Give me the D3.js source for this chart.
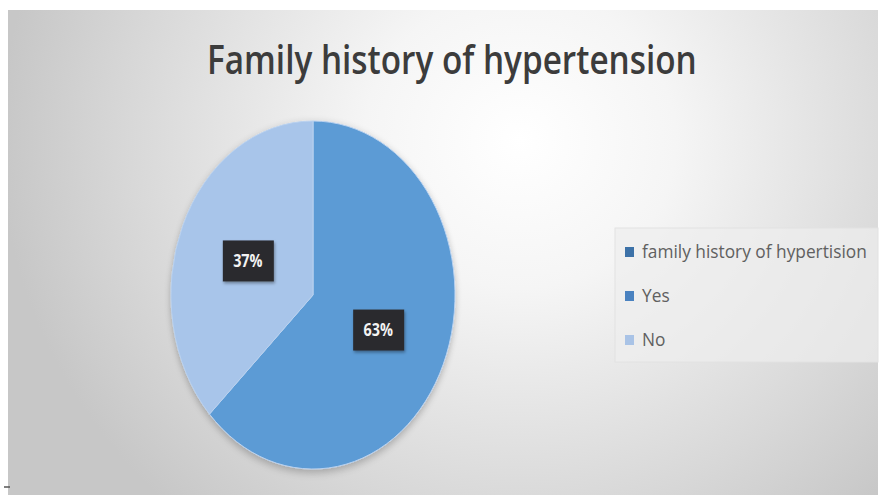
<!DOCTYPE html>
<html>
<head>
<meta charset="utf-8">
<script src="https://cdn.jsdelivr.net/npm/d3@7"></script>
<style>
  html, body { margin: 0; padding: 0; background: #ffffff; }
  svg { display: block; }
</style>
</head>
<body>
<svg id="chart" width="883" height="497"></svg>
<script>
// Family history of hypertension — share of respondents
const chartTitle = "Family history of hypertension";
const categories = ["family history of hypertision", "Yes", "No"];
const values = [0, 63, 37];
const sliceColors = ["#3f78b4", "#5b9bd5", "#a8c5ea"];
const legendColors = ["#3d72a8", "#4a82c0", "#a9c3e6"];

const W = 883, H = 497;
const svg = d3.select("#chart");
const defs = svg.append("defs");

// panel background: soft radial light in the upper middle
const bg = defs.append("radialGradient")
  .attr("id", "bgGrad")
  .attr("gradientUnits", "userSpaceOnUse")
  .attr("cx", 520).attr("cy", 140).attr("r", 520)
  .attr("gradientTransform", "translate(520,140) scale(1,0.95) translate(-520,-140)");
bg.append("stop").attr("offset", 0).attr("stop-color", "#ffffff");
bg.append("stop").attr("offset", 0.3).attr("stop-color", "#f5f5f5");
bg.append("stop").attr("offset", 0.75).attr("stop-color", "#d8d8d8");
bg.append("stop").attr("offset", 1).attr("stop-color", "#c7c7c7");

const shadow = defs.append("filter").attr("id", "soft")
  .attr("x", "-20%").attr("y", "-20%").attr("width", "140%").attr("height", "140%");
shadow.append("feGaussianBlur").attr("in", "SourceAlpha").attr("stdDeviation", 4).attr("result", "b");
shadow.append("feOffset").attr("in", "b").attr("dx", 0).attr("dy", 3).attr("result", "o");
shadow.append("feComponentTransfer").attr("in", "o").attr("result", "s")
  .append("feFuncA").attr("type", "linear").attr("slope", 0.25);
const m = shadow.append("feMerge");
m.append("feMergeNode").attr("in", "s");
m.append("feMergeNode").attr("in", "SourceGraphic");

const labShadow = defs.append("filter").attr("id", "labShadow")
  .attr("x", "-30%").attr("y", "-30%").attr("width", "160%").attr("height", "160%");
labShadow.append("feDropShadow").attr("dx", 1).attr("dy", 2).attr("stdDeviation", 1.5)
  .attr("flood-color", "#000").attr("flood-opacity", 0.35);

svg.append("rect")
  .attr("x", 8).attr("y", 10).attr("width", 870).attr("height", 485)
  .attr("fill", "url(#bgGrad)");

// title, squeezed horizontally to a condensed look
const title = svg.append("text")
  .attr("x", 0).attr("y", 0)
  .attr("font-family", "'Open Sans', 'DejaVu Sans', sans-serif")
  .attr("font-weight", 600)
  .attr("font-size", 40)
  .attr("fill", "#3c3c3c")
  .text(chartTitle);
const titleW = title.node().getComputedTextLength();
const titleSx = 490 / titleW;
title.attr("transform", `translate(207,74) scale(${titleSx},1)`);

// pie, drawn as a vertically stretched ellipse
const cx = 313, cy = 295, ry = 174, rx = 142;
const sx = rx / ry;
const pie = d3.pie().sort(null).value(d => d.value);
const data = categories.map((c, i) => ({ name: c, value: values[i], color: sliceColors[i] }));
const arcs = pie(data).filter(a => a.data.value > 0);
const arc = d3.arc().innerRadius(0).outerRadius(ry);

const pieG = svg.append("g")
  .attr("transform", `translate(${cx},${cy}) scale(${sx},1)`)
  .attr("filter", "url(#soft)");
pieG.selectAll("path")
  .data(arcs)
  .join("path")
  .attr("d", arc)
  .attr("fill", d => d.data.color)
  .attr("stroke", "#b9d1ef")
  .attr("stroke-width", 1)
  .attr("vector-effect", "non-scaling-stroke");

// percentage labels on dark boxes
const total = d3.sum(values);
const labelArc = d3.arc().innerRadius(0).outerRadius(ry);
const labG = svg.append("g");
arcs.forEach(a => {
  const [px, py] = labelArc.centroid(a);
  const x = cx + px * sx, y = cy + py;
  const g = labG.append("g").attr("transform", `translate(${x},${y})`);
  g.append("rect")
    .attr("x", -25).attr("y", -20).attr("width", 51).attr("height", 41)
    .attr("fill", "#2a2c2f")
    .attr("filter", "url(#labShadow)");
  const t = g.append("text")
    .attr("text-anchor", "middle")
    .attr("dy", "0.36em")
    .attr("font-family", "'Open Sans', 'DejaVu Sans', sans-serif")
    .attr("font-weight", 700)
    .attr("font-size", 18)
    .attr("fill", "#f2f2f2")
    .text(Math.round(a.data.value / total * 100) + "%");
  t.attr("transform", "scale(0.8,1)");
});

// legend
const legG = svg.append("g");
legG.append("rect")
  .attr("x", 615).attr("y", 228).attr("width", 263).attr("height", 134)
  .attr("fill", "#eeeeee").attr("fill-opacity", 0.7)
  .attr("stroke", "#e2e2e2");
const rowY = d3.scalePoint().domain(categories).range([252, 340]);
const items = legG.selectAll("g.item")
  .data(data)
  .join("g")
  .attr("class", "item")
  .attr("transform", d => `translate(625,${rowY(d.name)})`);
items.append("rect")
  .attr("x", 0).attr("y", -5).attr("width", 9).attr("height", 10)
  .attr("fill", (d, i) => legendColors[i]);
const legTexts = items.append("text")
  .attr("x", 0).attr("y", 0)
  .attr("dy", "0.35em")
  .attr("font-family", "'Open Sans', 'DejaVu Sans', sans-serif")
  .attr("font-size", 17.5)
  .attr("fill", "#606060")
  .text(d => d.name);
const longW = legTexts.filter((d, i) => i === 0).node().getComputedTextLength();
const legSx = 225 / longW;
legTexts.attr("transform", `translate(17,0) scale(${legSx},1)`);

// small stray mark at the lower-left corner of the panel
svg.append("line")
  .attr("x1", 4).attr("x2", 10).attr("y1", 487).attr("y2", 487)
  .attr("stroke", "#555").attr("stroke-width", 1.5);
</script>
</body>
</html>
